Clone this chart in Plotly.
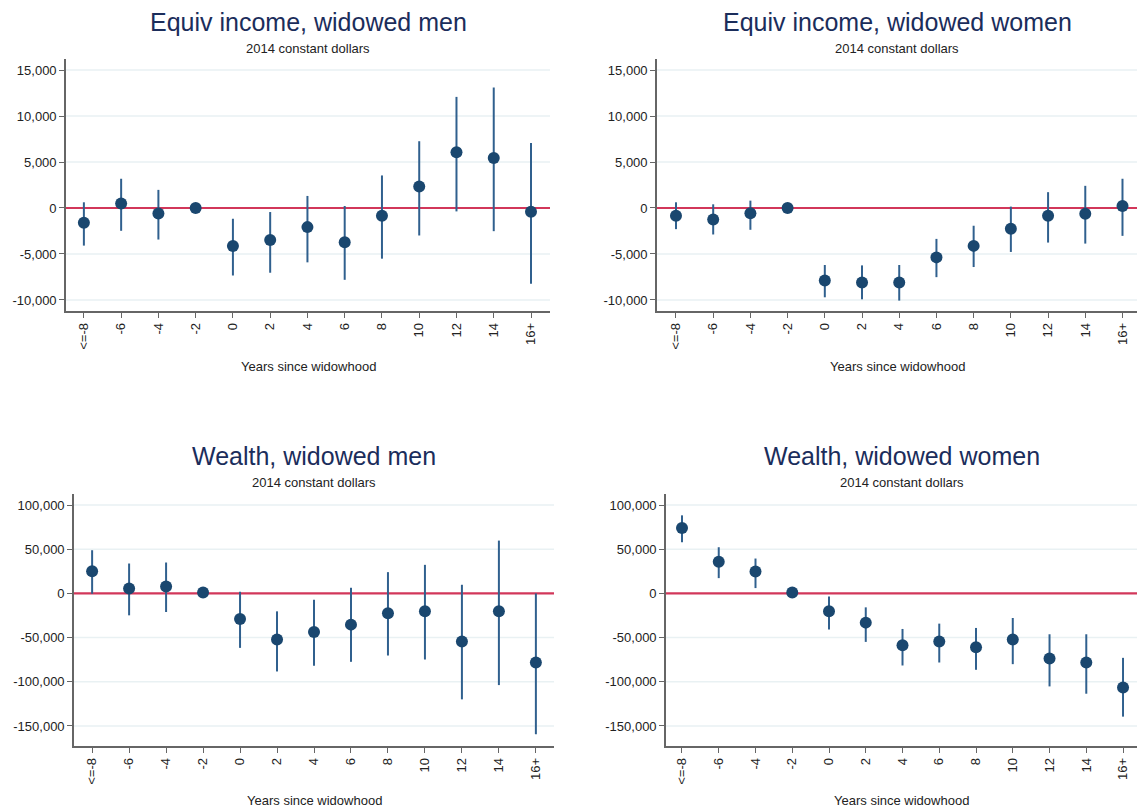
import plotly.graph_objects as go

# Event-time categories (years since widowhood)
years = ["<=-8", "-6", "-4", "-2", "0", "2", "4", "6", "8", "10", "12", "14", "16+"]

# Equivalised income, widowed men: coefficient and 95% CI bounds
inc_men = [-1600, 480, -590, 0, -4130, -3470, -2080, -3720, -840, 2340, 6060, 5440, -400]
inc_men_hi = [620, 3180, 1970, 0, -1170, -440, 1310, 220, 3540, 7260, 12080, 13100, 7080]
inc_men_lo = [-4090, -2480, -3430, 0, -7340, -7040, -5910, -7810, -5510, -2990, -370, -2520, -8250]

# Equivalised income, widowed women
inc_wom = [-840, -1240, -580, 0, -7880, -8100, -8100, -5370, -4120, -2260, -840, -620, 220]
inc_wom_hi = [620, 400, 800, 0, -6200, -6240, -6200, -3360, -1930, 150, 1720, 2410, 3180]
inc_wom_lo = [-2300, -2880, -2370, 0, -9710, -9930, -10070, -7520, -6420, -4780, -3760, -3870, -3030]

# Wealth, widowed men
wlt_men = [25200, 5600, 7900, 1000, -28950, -52260, -43610, -35340, -22560, -20300, -54510, -20300, -78200]
wlt_men_hi = [48870, 33830, 34960, 1000, 1880, -20300, -7140, 6390, 24060, 32330, 9770, 59770, 0]
wlt_men_lo = [-380, -24810, -21050, 1000, -61650, -88350, -81950, -77440, -70300, -74810, -119920, -103760, -159400]

# Wealth, widowed women
wlt_wom = [74060, 35710, 24810, 1000, -20300, -33080, -58650, -54510, -60900, -52260, -73680, -78200, -106390]
wlt_wom_hi = [88350, 52260, 39470, 1000, -3380, -15790, -40230, -34210, -39100, -27820, -46240, -46240, -72930]
wlt_wom_lo = [57890, 17290, 6020, 1000, -40980, -54890, -81580, -78200, -86470, -80080, -105260, -113530, -139470]

titles = ["Equiv income, widowed men", "Equiv income, widowed women",
          "Wealth, widowed men", "Wealth, widowed women"]
subtitle = "2014 constant dollars"
x_title = "Years since widowhood"

inc_ticks = [-10000, -5000, 0, 5000, 10000, 15000]
wlt_ticks = [-150000, -100000, -50000, 0, 50000, 100000]

W, H = 1137, 810
FONT = "Liberation Sans, Arial, Helvetica, sans-serif"
NAVY = "#1a476f"
BAR = "#30608e"
TITLE_COL = "#1b2d5b"
ZERO_COL = "#d2375a"
GRID_COL = "#e9f1f3"
AXIS_COL = "#666666"

# panel geometry in pixels: (left, right, top, bottom), x-range, y-range
panels = [
    dict(px=(66, 550), py=(59, 311), xr=[-0.48, 12.51], yr=[-11200, 16200], ticks=inc_ticks,
         y=inc_men, hi=inc_men_hi, lo=inc_men_lo, title_y=22, sub_y=49, xt_y=366),
    dict(px=(657, 1137), py=(59, 311), xr=[-0.51, 12.39], yr=[-11200, 16200], ticks=inc_ticks,
         y=inc_wom, hi=inc_wom_hi, lo=inc_wom_lo, title_y=22, sub_y=49, xt_y=366),
    dict(px=(74, 554), py=(494, 746), xr=[-0.49, 12.49], yr=[-172700, 112500], ticks=wlt_ticks,
         y=wlt_men, hi=wlt_men_hi, lo=wlt_men_lo, title_y=456, sub_y=482, xt_y=800),
    dict(px=(666, 1137), py=(494, 746), xr=[-0.435, 12.38], yr=[-172700, 112500], ticks=wlt_ticks,
         y=wlt_wom, hi=wlt_wom_hi, lo=wlt_wom_lo, title_y=456, sub_y=482, xt_y=800),
]

fig = go.Figure()
idx = list(range(len(years)))

for i, p in enumerate(panels):
    n = "" if i == 0 else str(i + 1)
    xa, ya = "x" + n, "y" + n
    err_plus = [h - v for h, v in zip(p["hi"], p["y"])]
    err_minus = [v - l for v, l in zip(p["y"], p["lo"])]
    # reference line at zero spanning the whole x range, drawn under the markers
    fig.add_trace(go.Scatter(
        x=p["xr"], y=[0, 0], mode="lines", xaxis=xa, yaxis=ya, showlegend=False,
        line=dict(color=ZERO_COL, width=2.2), hoverinfo="skip", cliponaxis=True,
    ))
    fig.add_trace(go.Scatter(
        x=idx, y=p["y"], mode="markers", xaxis=xa, yaxis=ya, showlegend=False,
        marker=dict(color=NAVY, size=12),
        error_y=dict(type="data", symmetric=False, array=err_plus, arrayminus=err_minus,
                     color=BAR, thickness=2, width=0),
    ))
    x0, x1 = p["px"][0] / W, p["px"][1] / W
    y0, y1 = 1 - p["py"][1] / H, 1 - p["py"][0] / H
    tick_txt = [f"{t:,}" for t in p["ticks"]]
    # gridlines everywhere except at zero, where the red reference line sits
    grid_vals = [t for t in p["ticks"] if t != 0]
    fig.layout["xaxis" + n] = dict(
        domain=[x0, x1], range=p["xr"], anchor=ya, tickmode="array", tickvals=idx,
        ticktext=years, tickangle=-90, ticks="outside", ticklen=5, tickwidth=1.3,
        tickcolor=AXIS_COL, showline=True, linecolor=AXIS_COL, linewidth=1.6,
        showgrid=False, zeroline=False, tickfont=dict(family=FONT, size=13, color="#222222"),
        fixedrange=True,
    )
    fig.layout["yaxis" + n] = dict(
        domain=[y0, y1], range=p["yr"], anchor=xa, tickmode="array", tickvals=p["ticks"],
        ticktext=tick_txt, ticks="outside", ticklen=5, tickwidth=1.3, tickcolor=AXIS_COL,
        showline=True, linecolor=AXIS_COL, linewidth=1.6, showgrid=False,
        zeroline=False, tickfont=dict(family=FONT, size=13, color="#222222"),
        fixedrange=True,
    )
    for g in grid_vals:
        fig.add_shape(type="line", xref=xa + " domain", yref=ya, x0=0, x1=1, y0=g, y1=g,
                      line=dict(color=GRID_COL, width=1.5), layer="below")
    cx = (x0 + x1) / 2
    fig.add_annotation(text=titles[i], xref="paper", yref="paper", x=cx, y=1 - p["title_y"] / H,
                       showarrow=False, xanchor="center", yanchor="middle",
                       font=dict(family=FONT, size=25, color=TITLE_COL))
    fig.add_annotation(text=subtitle, xref="paper", yref="paper", x=cx, y=1 - p["sub_y"] / H,
                       showarrow=False, xanchor="center", yanchor="middle",
                       font=dict(family=FONT, size=13, color="#222222"))
    fig.add_annotation(text=x_title, xref="paper", yref="paper", x=cx, y=1 - p["xt_y"] / H,
                       showarrow=False, xanchor="center", yanchor="middle",
                       font=dict(family=FONT, size=13, color="#222222"))

fig.update_layout(
    width=W, height=H, margin=dict(l=0, r=0, t=0, b=0),
    paper_bgcolor="white", plot_bgcolor="white",
)

fig.write_html("out.html")
